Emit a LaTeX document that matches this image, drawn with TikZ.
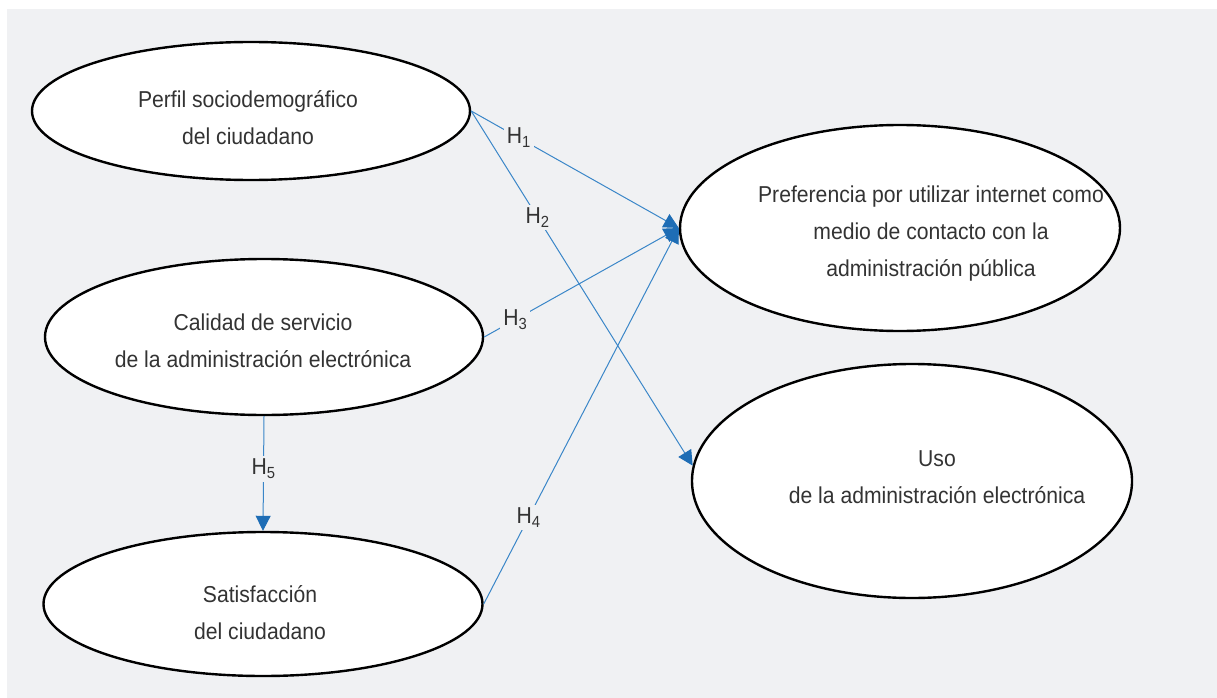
\documentclass[tikz,border=0pt]{standalone}
\usepackage{fontspec}
\setmainfont{Liberation Sans}[FakeStretch=0.92]
\usetikzlibrary{shapes.geometric,arrows.meta}
\definecolor{bg}{HTML}{F0F1F3}
\definecolor{lineblue}{HTML}{3A86C8}
\definecolor{headblue}{HTML}{1E6DB5}
\definecolor{txt}{HTML}{333333}
\begin{document}
\begin{tikzpicture}[x=1pt,y=-1pt,
  oval/.style={ellipse,draw=black,line width=2.4pt,fill=white,inner sep=0pt},
  ovaltext/.style={align=center,text=txt,inner sep=0pt,font=\fontsize{23}{37}\selectfont},
  link/.style={draw=lineblue,line width=1pt,-{Triangle[length=15pt,width=15pt,color=headblue]}},
  hlabel/.style={fill=bg,text=txt,inner sep=3pt,font=\fontsize{23}{26}\selectfont}
]
\useasboundingbox (0,0) rectangle (1217,698);
\fill[bg] (7,9) rectangle (1217,698);

\node[oval,minimum width=438pt,minimum height=138pt] (p1) at (251,111) {};
\node[oval,minimum width=438pt,minimum height=156pt] (p2) at (264,337) {};
\node[oval,minimum width=439pt,minimum height=144pt] (p3) at (263,604) {};
\node[oval,minimum width=440pt,minimum height=206pt] (p4) at (900,228) {};
\node[oval,minimum width=440pt,minimum height=234pt] (p5) at (912,481) {};

\node[ovaltext] (t1) at (248,118) {Perfil sociodemográfico\\del ciudadano};
\node[ovaltext] (t2) at (263,341) {Calidad de servicio\\de la administración electrónica};
\node[ovaltext] (t3) at (260,613) {Satisfacción\\del ciudadano};
\node[ovaltext] (t4) at (931,234) {Preferencia por utilizar internet como\\medio de contacto con la\\administración pública};
\node[ovaltext] (t5) at (937,477) {Uso\\de la administración electrónica};

\draw[link] (p1.east) -- node[hlabel,pos=0.23] {H\textsubscript{1}} (p4.west);
\draw[link] (p1.east) -- node[hlabel,pos=0.30] {H\textsubscript{2}} (p5.176);
\draw[link] (p2.east) -- node[hlabel,pos=0.16] {H\textsubscript{3}} (p4.west);
\draw[link] (p3.east) -- node[hlabel,pos=0.23] {H\textsubscript{4}} (p4.west);
\draw[link] (p2.south) -- node[hlabel,pos=0.46] {H\textsubscript{5}} (p3.north);
\end{tikzpicture}
\end{document}
